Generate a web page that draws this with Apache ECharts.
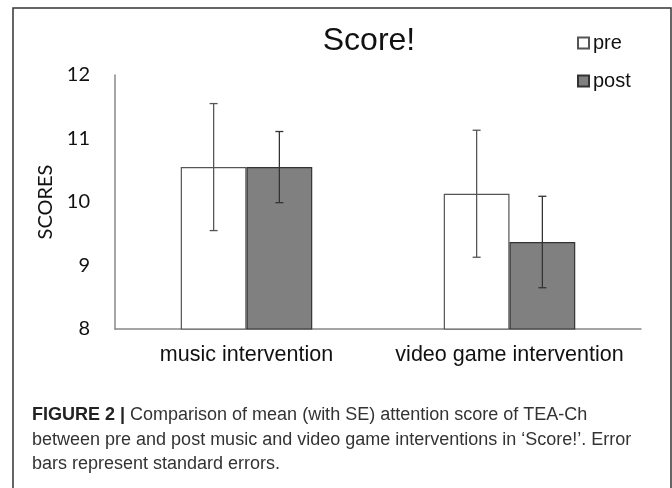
<!DOCTYPE html>
<html>
<head>
<meta charset="utf-8">
<script src="https://cdn.jsdelivr.net/npm/echarts@6/dist/echarts.min.js"></script>
<style>
html,body{margin:0;padding:0;background:#fff;}
#chart{width:672px;height:488px;}
</style>
</head>
<body>
<div id="chart"></div>
<script>
// ---- data ----
var categories = ['music intervention', 'video game intervention'];
var seriesNames = ['pre', 'post'];
var preValues = [10.55, 10.13];
var postValues = [10.55, 9.37];
var preSE = [1.0, 1.0];
var postSE = [0.56, 0.72];
var yMin = 8, yMax = 12, yStep = 1;
var titleText = 'Score!';
var yAxisName = 'SCORES';
var captionBold = 'FIGURE 2 |';
var captionLines = [
  ' Comparison of mean (with SE) attention score of TEA-Ch',
  'between pre and post music and video game interventions in \u2018Score!\u2019. Error',
  'bars represent standard errors.'
];

var chart = echarts.init(document.getElementById('chart'), null, {renderer: 'canvas'});

function errorSeries(name, means, ses, side, color) {
  return {
    type: 'custom',
    name: name + ' SE',
    z: 10,
    data: means.map(function (m, i) { return [i, m - ses[i], m + ses[i]]; }),
    renderItem: function (params, api) {
      var cat = api.value(0);
      var lowP = api.coord([cat, api.value(1)]);
      var highP = api.coord([cat, api.value(2)]);
      var band = api.size([1, 0])[0];
      var barW = band * 0.25;
      var x = lowP[0] + side * barW / 2;
      var cap = 4;
      var st = {stroke: color, lineWidth: 1.3};
      return {
        type: 'group',
        children: [
          {type: 'line', shape: {x1: x, y1: highP[1], x2: x, y2: lowP[1]}, style: st},
          {type: 'line', shape: {x1: x - cap, y1: highP[1], x2: x + cap, y2: highP[1]}, style: st},
          {type: 'line', shape: {x1: x - cap, y1: lowP[1], x2: x + cap, y2: lowP[1]}, style: st}
        ]
      };
    }
  };
}

var capFont = 'Liberation Sans, Arial, sans-serif';
var graphics = [
  {type: 'rect', shape: {x: 13, y: 8, width: 658, height: 490},
   style: {fill: null, stroke: '#333', lineWidth: 1.5}, silent: true},
  {type: 'text', left: 32, top: 406,
   style: {text: '{b|' + captionBold + '}' + '{n|' + captionLines[0] + '}',
     rich: {
       b: {fontFamily: capFont, fontWeight: 'bold', fontSize: 18, fill: '#222'},
       n: {fontFamily: capFont, fontSize: 18, fill: '#333'}
     }}},
  {type: 'text', left: 32, top: 431,
   style: {text: captionLines[1], fontFamily: capFont, fontSize: 18, fill: '#333'}},
  {type: 'text', left: 32, top: 455,
   style: {text: captionLines[2], fontFamily: capFont, fontSize: 18, fill: '#333'}}
];

var option = {
  backgroundColor: '#fff',
  animation: false,
  title: {
    text: titleText,
    left: 364, top: 20,
    textAlign: 'center',
    textStyle: {fontFamily: 'Liberation Sans, Arial, sans-serif', fontSize: 32, fontWeight: 'normal', color: '#111'}
  },
  legend: {
    data: seriesNames,
    orient: 'vertical',
    left: 572, top: 28,
    itemWidth: 11, itemHeight: 11,
    itemGap: 18,
    icon: 'rect',
    textStyle: {fontFamily: 'Liberation Sans, Arial, sans-serif', fontSize: 20, color: '#111', padding: [0, 0, 0, -1]}
  },
  grid: {left: 115, right: 31, top: 75, bottom: 159, containLabel: false},
  xAxis: {
    type: 'category',
    data: categories,
    axisLine: {lineStyle: {color: '#888', width: 1.5}},
    axisTick: {show: false},
    axisLabel: {interval: 0, fontFamily: 'Liberation Sans, Arial, sans-serif', fontSize: 21.5, color: '#111', margin: 15}
  },
  yAxis: {
    type: 'value',
    min: yMin, max: yMax, interval: yStep,
    name: yAxisName,
    nameLocation: 'middle',
    nameRotate: 90,
    nameGap: 58,
    nameTextStyle: {fontFamily: 'Lato, Open Sans, sans-serif', fontSize: 20, color: '#111'},
    axisLine: {show: true, lineStyle: {color: '#888', width: 1.5}},
    axisTick: {show: false},
    splitLine: {show: false},
    axisLabel: {fontFamily: 'Lato, Open Sans, sans-serif', fontSize: 20, color: '#111', margin: 25}
  },
  series: [
    {
      name: seriesNames[0], type: 'bar', data: preValues,
      barGap: 0, barCategoryGap: '50%',
      itemStyle: {color: '#ffffff', borderColor: '#555', borderWidth: 1.2}
    },
    {
      name: seriesNames[1], type: 'bar', data: postValues,
      barGap: 0, barCategoryGap: '50%',
      itemStyle: {color: '#808080', borderColor: '#333', borderWidth: 1.2}
    },
    errorSeries('pre', preValues, preSE, -1, '#555'),
    errorSeries('post', postValues, postSE, 1, '#333')
  ],
  graphic: graphics
};
chart.setOption(option);
</script>
</body>
</html>
